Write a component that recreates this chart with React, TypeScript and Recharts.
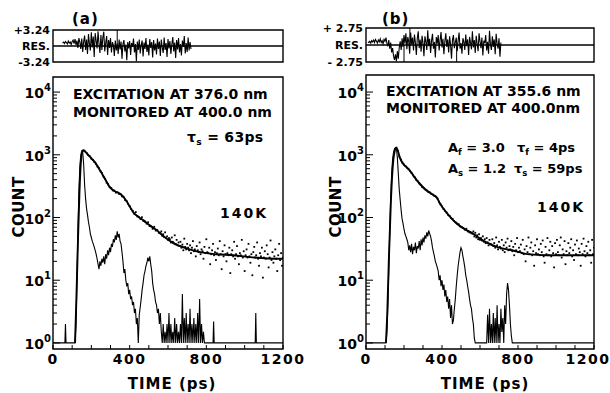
import React from 'react'
import { ComposedChart, Line, Scatter, XAxis, YAxis, ReferenceArea, ReferenceLine } from 'recharts'

const FONT = '"DejaVu Sans", sans-serif'

// shared axes
const X_TICKS = [0, 100, 200, 300, 400, 500, 600, 700, 800, 900, 1000, 1100, 1200]
const X_LABELS = [0, 400, 800, 1200]
const DECADES = [1, 10, 100, 1000, 10000]
const LOG_TICKS = [
  1, 2, 3, 4, 5, 6, 7, 8, 9, 10, 20, 30, 40, 50, 60, 70, 80, 90, 100, 200, 300, 400, 500, 600, 700, 800, 900,
  1000, 2000, 3000, 4000, 5000, 6000, 7000, 8000, 9000, 10000,
]

// ---------- panel (a) ----------
// excitation pulse profile, 5 ps channels from 100 ps
const IRF_A_START = 100
const irfAHead = [[0, 1], [62, 1], [65, 2], [68, 1], [95, 1]]
const irfACounts = [
  1, 1, 1, 1, 2, 10, 60, 250, 650, 1000,
  1150, 1100, 700, 330, 200, 140, 110, 85, 70, 55,
  48, 42, 38, 34, 30, 26, 22, 18, 15, 20,
  17, 22, 19, 24, 18, 26, 22, 30, 25, 33,
  28, 38, 34, 45, 40, 52, 44, 60, 48, 55,
  42, 38, 28, 20, 13, 15, 10, 8, 9, 6,
  7, 5, 5.5, 4, 4.5, 3, 3.5, 2, 2.5, 1,
  2.8, 3.7, 5, 7, 9, 12, 14, 17, 19, 23,
  20, 24, 18, 14, 9, 7, 6, 4.5, 4, 3,
  3.5, 2, 3, 1.5, 1, 2, 1, 1.5, 1, 2,
  1, 3, 1, 2, 1, 1.5, 1, 2.5, 1, 2,
  1, 1.5, 1, 2, 1, 6, 1, 2.5, 1, 3,
  1, 2, 1, 3.5, 1, 2, 1, 2.5, 1, 2,
  1, 3, 1, 5, 1, 2, 1, 1.5, 1, 1,
  1, 1, 1, 1, 1,
]
const irfATail = [[835, 1], [838, 2.2], [841, 1], [1055, 1], [1058, 3], [1061, 1], [1200, 1]]

const fitA = [
  [115, 1], [122, 5], [130, 40], [138, 250], [146, 800], [155, 1170], [165, 1150], [183, 1000], [200, 880],
  [220, 750], [246, 560], [270, 420], [298, 300], [325, 260], [350, 240], [366, 215], [385, 180], [400, 150],
  [420, 120], [445, 103], [472, 90], [505, 75], [543, 62], [585, 48], [628, 39], [700, 32], [770, 28],
  [850, 26], [942, 25], [1050, 23], [1187, 22], [1200, 22],
]

// measured counts: 8 ps apart from 160 ps, then 5 ps apart from 560 ps
const DOT_EARLY_START = 160
const DOT_LATE_START = 560
const dotsAEarly = [
  1180, 1130, 1060, 990, 950, 870, 830, 770, 720, 650,
  610, 545, 510, 445, 415, 360, 340, 305, 295, 270,
  268, 250, 252, 238, 236, 218, 214, 190, 183, 165,
  152, 136, 128, 115, 122, 104, 102, 95, 101, 88,
  86, 80, 84, 73, 72, 66, 71, 62, 63, 57,
]
const dotsALate = [
  56, 60, 51, 54, 49, 58, 47, 50, 44, 47,
  45, 40, 48, 41, 39, 52, 38, 44, 36, 40,
  35, 41, 33, 37, 30, 46, 34, 31, 38, 33,
  30, 36, 27, 33, 42, 29, 31, 24, 35, 30,
  28, 40, 26, 31, 29, 22, 34, 27, 45, 28,
  27, 33, 18, 26, 30, 38, 25, 28, 21, 27,
  32, 25, 42, 26, 15, 29, 24, 36, 26, 20,
  27, 25, 33, 13, 26, 30, 24, 41, 22, 26,
  35, 24, 18, 27, 25, 44, 23, 29, 14, 25,
  31, 23, 38, 24, 19, 26, 12, 28, 34, 23,
  25, 40, 22, 17, 27, 24, 33, 11, 23, 29,
  22, 36, 26, 16, 23, 43, 21, 28, 19, 24,
  31, 22, 14, 25, 38, 21, 27, 17, 23,
]

// weighted residuals, 5 ps apart from 50 ps
const RES_A_START = 50
const resA = [
  0.6, 0.8, 0.5, 0.9, 0.7, 0.4, 1.0, 0.6, 0.8, 0.3,
  0.9, 1.2, 0.5, 1.4, 0.2, 1.1, -0.4, 1.6, 0.8, -0.6,
  1.5, -1.2, 0.9, 2.1, -0.8, 1.3, -1.6, 2.4, 0.5, -0.9,
  2.8, -0.3, 1.9, -2.2, 2.6, 1.1, -0.5, 3.0, 0.4, -1.4,
  2.2, -0.8, 1.7, 2.9, -1.1, 0.6, 2.0, -1.8, 1.2, -0.4,
  1.6, -1.3, 0.8, 0.2, -2.0, 1.1, -0.9, 0.5, -1.6, 1.3,
  -0.7, 0.9, -2.6, 0.4, 1.2, -1.1, 0.3, -2.9, 0.8, -0.5,
  1.0, -1.8, 0.6, -0.2, 1.5, -1.3, 0.4, -3.1, 0.9, -0.8,
  1.3, -1.5, 0.2, 1.1, -2.1, 0.7, -0.6, 1.6, -1.2, 0.3,
  -1.9, 1.4, -0.4, 0.8, -2.3, 1.2, -0.9, 0.5, -1.7, 1.5,
  -0.6, 0.9, -2.0, 1.3, -0.3, -1.4, 1.7, -0.8, 0.6, -2.2,
  1.4, -0.5, 1.0, -1.6, 0.3, 1.8, -1.1, 0.7, -2.4, 1.2,
  -0.7, 1.6, -1.3, 0.4, -1.9, 1.1, -0.2, 2.0, -1.5, 0.6,
  -1.2, 1.7, -0.9, 0.8, -0.6,
]
const resAMarks = [335]

// ---------- panel (b) ----------
const IRF_B_START = 80
const irfBHead = [[0, 1]]
const irfBCounts = [
  1, 1, 1, 1, 1, 1, 1.5, 4, 15, 60,
  200, 500, 850, 1100, 1250, 1300, 1280, 900, 500, 280,
  190, 130, 95, 80, 65, 55, 50, 45, 40, 30,
  36, 28, 38, 26, 34, 30, 40, 27, 35, 32,
  42, 30, 45, 36, 48, 40, 52, 46, 58, 50,
  62, 55, 50, 42, 33, 28, 24, 20, 18, 16,
  14, 10, 12, 8, 10, 7, 8.5, 5.5, 7, 4.5,
  5.5, 3.5, 5, 2.5, 4, 2, 2.3, 3.5, 5, 8,
  12, 17, 22, 28, 33, 30, 24, 20, 16, 12,
  10, 8, 6.5, 5, 4, 3.5, 2.5, 2, 1.2, 1,
  1, 1, 1, 1, 1, 1, 1, 1, 1, 1,
  1, 1, 2.8, 1, 3.5, 1, 2, 1, 3, 1,
  2.5, 1, 4, 1, 2, 1, 3.5, 1.5, 2.5, 1,
  4, 2, 6, 9, 7, 4, 2, 1.3, 1, 1,
  1, 1, 1, 1, 1,
]
const irfBTail = [[1200, 1]]

const fitB = [
  [105, 1], [112, 3], [120, 20], [130, 150], [140, 600], [150, 1100], [160, 1290], [168, 1150], [178, 900],
  [195, 720], [212, 640], [231, 560], [255, 440], [283, 345], [310, 285], [335, 250], [355, 228], [372, 210],
  [388, 170], [410, 135], [440, 105], [477, 80], [520, 65], [561, 56], [600, 46], [634, 40], [700, 33],
  [770, 30], [850, 26], [950, 25], [1050, 25], [1200, 25],
]

const dotsBEarly = [
  1300, 1150, 930, 840, 750, 700, 655, 620, 585, 550,
  510, 470, 440, 400, 378, 350, 330, 305, 292, 280,
  270, 255, 250, 236, 232, 220, 214, 200, 178, 162,
  150, 137, 128, 120, 110, 106, 98, 95, 88, 84,
  80, 78, 72, 70, 68, 64, 66, 60, 58, 57,
]
const dotsBLate = [
  55, 60, 50, 57, 48, 52, 45, 54, 44, 47,
  43, 50, 41, 45, 39, 47, 40, 36, 44, 38,
  37, 45, 35, 39, 33, 48, 36, 31, 41, 34,
  32, 44, 30, 36, 28, 40, 33, 46, 30, 35,
  31, 42, 29, 34, 25, 38, 30, 47, 28, 33,
  29, 37, 27, 44, 26, 31, 20, 35, 28, 48,
  26, 33, 40, 25, 29, 17, 36, 27, 45, 26,
  31, 25, 38, 28, 43, 24, 19, 34, 26, 47,
  25, 30, 41, 24, 35, 27, 16, 39, 26, 44,
  28, 25, 36, 48, 23, 31, 26, 42, 18, 29,
  25, 39, 27, 33, 45, 24, 30, 21, 37, 26,
  43, 25, 32, 28, 17, 38, 26, 46, 29, 24,
  35, 27, 41, 25, 30, 19, 44, 26, 33,
]

const RES_B_START = 10
const resB = [
  0.5, 0.4, 0.6, 0.3, 0.7, 0.5, 0.8, 0.4, 0.9, 0.6,
  0.3, 0.8, 0.5, 1.0, 0.4, 0.7, 0.2, 0.9, 0.6, 1.2,
  0.3, -0.2, 0.8, -0.6, 0.4, -1.2, -0.5, -1.8, -2.4, -1.5,
  -2.6, -1.0, -2.2, -0.4, 0.6, -0.8, 1.1, -0.3, 1.6, 0.2,
  1.9, -0.7, 1.3, 0.5, -1.4, 2.0, 0.1, 1.2, -0.9, 1.7,
  0.4, -1.6, 1.1, 2.2, -0.5, 0.9, -1.1, 1.5, 0.3, -1.8,
  1.4, 0.6, -0.8, 2.4, -0.2, 1.0, -1.3, 0.7, 1.8, -0.6,
  0.5, -2.0, 1.3, 0.2, 1.6, -0.9, 0.8, 2.1, -0.4, 1.0,
  -1.5, 0.6, 1.9, -0.3, 0.9, -1.2, 1.4, 0.1, -2.2, 0.8,
  1.6, -0.5, 0.4, 1.2, -1.0, 0.7, 2.0, -0.6, 0.3, -1.4,
  1.1, 0.5, -0.8, 1.7, -0.2, 0.9, -1.6, 1.3, 0.4, -0.7,
  2.2, -0.4, 0.8, -1.3, 1.5, 0.2, -1.0, 1.9, 0.6, -0.5,
  1.2, -1.7, 0.7, 0.3, 1.6, -0.9, 0.5, -1.4, 2.3, 0.1,
  -0.8, 1.4, -0.3, 0.9, -1.5, 1.8, 0.2, -0.6, 1.1, -1.9,
  0.4,
]
const resBUp = [231]
const resBDown = [200, 477]

// helpers
const pairs = (arr: number[][]) => arr.map(([t, c]) => ({ t, c }))
const grid = (start: number, step: number, vals: number[]) => vals.map((c, i) => ({ t: start + i * step, c }))

const XTick = (p: any) => {
  const { x, y, payload } = p
  const v = payload.value
  // keep the last label inside the 305px-wide chart
  const shift = Math.min(0, 302 - (x + 19))
  return (
    <g>
      <line x1={x} x2={x} y1={y} y2={y - 4} stroke="#000" strokeWidth={1} />
      {X_LABELS.includes(v) && (
        <text x={x + shift} y={y + 15} textAnchor="middle" fontSize={14} fontWeight="bold" fontFamily={FONT} letterSpacing={1.5} fill="#000">
          {v}
        </text>
      )}
    </g>
  )
}

const YTick = (p: any) => {
  const { x, y, payload } = p
  const v = payload.value
  const exp = DECADES.indexOf(v)
  const major = exp >= 0
  return (
    <g>
      <line x1={x} x2={x + (major ? 7 : 4)} y1={y} y2={y} stroke="#000" strokeWidth={1} />
      {major && (
        <text x={x - 2} y={y + 6} textAnchor="end" fontSize={14} fontWeight="bold" fontFamily={FONT} fill="#000">
          10<tspan dy={-7} fontSize={10}>{exp}</tspan>
        </text>
      )}
    </g>
  )
}

const Dot = (p: any) => <rect x={p.cx - 0.9} y={p.cy - 0.9} width={1.8} height={1.8} fill="#000" />

function MainPanel({ left, marginLeft, marginRight, top, yMax, irf, fit, dots }: any) {
  const yMin = 0.8
  return (
    <div style={{ position: 'absolute', left, top: 0 }}>
      <ComposedChart width={305} height={393} margin={{ top, right: marginRight, bottom: 14, left: marginLeft }}>
        <XAxis
          type="number"
          dataKey="t"
          domain={[0, 1200]}
          ticks={X_TICKS}
          interval={0}
          allowDataOverflow
          axisLine={false}
          tickLine={false}
          tickSize={0}
          tickMargin={0}
          height={30}
          tick={XTick}
        />
        <YAxis
          type="number"
          dataKey="c"
          scale="log"
          domain={[yMin, yMax]}
          ticks={LOG_TICKS}
          interval={0}
          allowDataOverflow
          axisLine={false}
          tickLine={false}
          tickSize={0}
          tickMargin={0}
          width={40}
          tick={YTick}
        />
        <Scatter data={dots} shape={Dot} isAnimationActive={false} />
        <Line data={irf} dataKey="c" type="linear" dot={false} activeDot={false} stroke="#000" strokeWidth={1.1} isAnimationActive={false} />
        <Line data={fit} dataKey="c" type="monotone" dot={false} activeDot={false} stroke="#000" strokeWidth={1.9} isAnimationActive={false} />
        <ReferenceArea x1={0} x2={1200} y1={yMin} y2={yMax} fill="none" stroke="#000" strokeWidth={1.4} ifOverflow="visible" />
      </ComposedChart>
    </div>
  )
}

function ResPanel({ left, marginLeft, marginRight, top, limit, labels, data, up, down }: any) {
  const ResTick = (p: any) => {
    const { x, y, payload } = p
    const v = payload.value
    const label = v > 0 ? labels[0] : v < 0 ? labels[2] : labels[1]
    return (
      <text x={x - 3} y={y + 4} textAnchor="end" fontSize={11} fontWeight="bold" fontFamily={FONT} fill="#000">
        {label}
      </text>
    )
  }
  return (
    <div style={{ position: 'absolute', left, top: 0 }}>
      <ComposedChart width={305} height={70} margin={{ top, right: marginRight, bottom: 8, left: marginLeft }}>
        <XAxis type="number" dataKey="t" domain={[0, 1200]} hide />
        <YAxis
          type="number"
          dataKey="c"
          domain={[-limit, limit]}
          ticks={[-limit, 0, limit]}
          interval={0}
          axisLine={false}
          tickLine={false}
          tickSize={0}
          tickMargin={0}
          width={40}
          tick={ResTick}
        />
        <ReferenceLine y={0} stroke="#000" strokeWidth={1.3} />
        {up.map((t: number) => (
          <ReferenceLine key={'u' + t} segment={[{ x: t, y: 0 }, { x: t, y: limit }]} stroke="#000" strokeWidth={1} />
        ))}
        {down.map((t: number) => (
          <ReferenceLine key={'d' + t} segment={[{ x: t, y: -limit }, { x: t, y: 0 }]} stroke="#000" strokeWidth={1} />
        ))}
        <Line data={data} dataKey="c" type="linear" dot={false} activeDot={false} stroke="#000" strokeWidth={1.1} isAnimationActive={false} />
        <ReferenceArea x1={0} x2={1200} y1={-limit} y2={limit} fill="none" stroke="#000" strokeWidth={1.4} ifOverflow="visible" />
      </ComposedChart>
    </div>
  )
}

const Note = ({ x, y, size = 14, spacing = 0, children }: any) => (
  <div
    style={{
      position: 'absolute',
      left: x,
      top: y,
      transform: 'translateY(-50%)',
      fontSize: size,
      fontWeight: 'bold',
      letterSpacing: spacing,
      lineHeight: 1,
      whiteSpace: 'nowrap',
    }}
  >
    {children}
  </div>
)

const Sub = ({ children }: any) => (
  <span style={{ fontSize: '0.65em', position: 'relative', top: '0.35em' }}>{children}</span>
)

export default function App() {
  const irfA = [...pairs(irfAHead), ...grid(IRF_A_START, 5, irfACounts), ...pairs(irfATail)]
  const irfB = [...pairs(irfBHead), ...grid(IRF_B_START, 5, irfBCounts), ...pairs(irfBTail)]
  const dotA = [...grid(DOT_EARLY_START, 8, dotsAEarly), ...grid(DOT_LATE_START, 5, dotsALate)]
  const dotB = [...grid(DOT_EARLY_START, 8, dotsBEarly), ...grid(DOT_LATE_START, 5, dotsBLate)]
  const residA = grid(RES_A_START, 5, resA)
  const residB = grid(RES_B_START, 5, resB)

  return (
    <div
      style={{
        position: 'fixed',
        left: 0,
        top: 0,
        width: 610,
        height: 393,
        background: '#fff',
        overflow: 'hidden',
        fontFamily: FONT,
        color: '#000',
      }}
    >
      <ResPanel left={0} marginLeft={13} marginRight={22} top={30} limit={3.24}
        labels={['+3.24', 'RES.', '-3.24']} data={residA} up={resAMarks} down={[]} />
      <ResPanel left={305} marginLeft={21} marginRight={16} top={28} limit={2.75}
        labels={['+ 2.75', 'RES.', '- 2.75']} data={residB} up={resBUp} down={resBDown} />

      <MainPanel left={0} marginLeft={13} marginRight={22} top={77} yMax={17400}
        irf={irfA} fit={pairs(fitA)} dots={dotA} />
      <MainPanel left={305} marginLeft={21} marginRight={16} top={75} yMax={18700}
        irf={irfB} fit={pairs(fitB)} dots={dotB} />

      <Note x={72} y={19} size={15} spacing={1}>(a)</Note>
      <Note x={382} y={19} size={15} spacing={1}>(b)</Note>

      <Note x={73} y={94}>EXCITATION AT 376.0 nm</Note>
      <Note x={73} y={112}>MONITORED AT 400.0 nm</Note>
      <Note x={187} y={137} spacing={0.3}>τ<Sub>s</Sub> = 63ps</Note>
      <Note x={220} y={213} spacing={2}>140K</Note>

      <Note x={386} y={91}>EXCITATION AT 355.6 nm</Note>
      <Note x={386} y={108}>MONITORED AT 400.0nm</Note>
      <Note x={448} y={147} size={13}>A<Sub>f</Sub> = 3.0</Note>
      <Note x={517} y={147} size={13}>τ<Sub>f</Sub> = 4ps</Note>
      <Note x={448} y={168} size={13}>A<Sub>s</Sub> = 1.2</Note>
      <Note x={514} y={168} size={13}>τ<Sub>s</Sub> = 59ps</Note>
      <Note x={537} y={207} spacing={2}>140K</Note>

      {[19, 336].map((cx) => (
        <div key={cx} style={{ position: 'absolute', left: cx, top: 207, transform: 'translate(-50%, -50%) rotate(-90deg)', fontSize: 15, fontWeight: 'bold', letterSpacing: 0.5, whiteSpace: 'nowrap', lineHeight: 1 }}>
          COUNT
        </div>
      ))}
      {[172, 485].map((cx) => (
        <div key={cx} style={{ position: 'absolute', left: cx, top: 384, transform: 'translate(-50%, -50%)', fontSize: 15, fontWeight: 'bold', letterSpacing: 1, whiteSpace: 'nowrap', lineHeight: 1 }}>
          TIME (ps)
        </div>
      ))}
    </div>
  )
}
